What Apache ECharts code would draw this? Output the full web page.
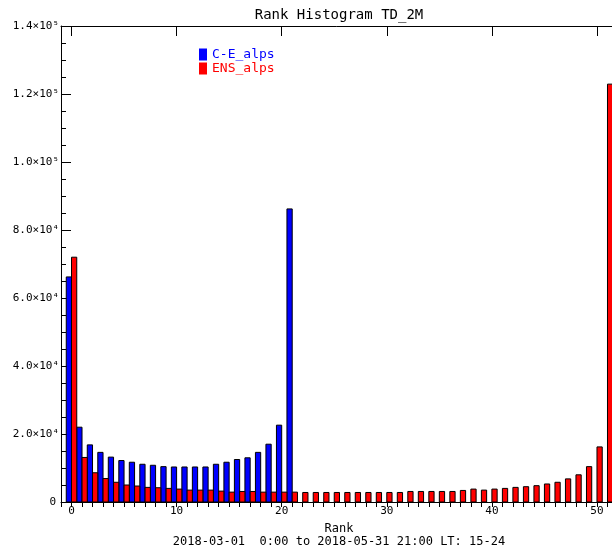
<!DOCTYPE html>
<html>
<head>
<meta charset="utf-8">
<script src="https://cdn.jsdelivr.net/npm/echarts@6/dist/echarts.min.js"></script>
<style>
html,body{margin:0;padding:0;background:#fff;}
#chart{width:612px;height:550px;}
</style>
</head>
<body>
<div id="chart"></div>
<script>
// ---- data ----
const titleText = 'Rank Histogram TD_2M';
const xName = 'Rank';
const subText = '2018-03-01  0:00 to 2018-05-31 21:00 LT: 15-24';
const seriesNames = ['C-E_alps', 'ENS_alps'];
const ceValues = [66200, 22000, 16800, 14600, 13200, 12200, 11700, 11100, 10800, 10400,
                  10300, 10300, 10300, 10300, 11100, 11700, 12500, 13000, 14600, 17000,
                  22600, 86200];
const ensValues = [72000, 13100, 8600, 6900, 5800, 5000, 4700, 4300, 4200, 4000,
                   3800, 3500, 3500, 3500, 3200, 2900, 3100, 3100, 2900, 2900,
                   2900, 2900, 2800, 2800, 2800, 2800, 2800, 2800, 2800, 2800,
                   2800, 2800, 3100, 3100, 3100, 3100, 3100, 3400, 3800, 3500,
                   3800, 4000, 4300, 4500, 4800, 5300, 5800, 6800, 8000, 10400,
                   16200, 122900];
const xTickLabels = [0, 10, 20, 30, 40, 50];

const FONT = '"DejaVu Sans Mono", monospace';
const ceData = ceValues.map((v, i) => [i, v]);
const ensData = ensValues.map((v, i) => [i, v]);

const X_MIN = -1, X_MAX = 52;

function yFmt(v) {
  if (v === 0) return '{z|0}';
  const e = Math.floor(Math.log10(v) + 1e-9);
  const m = v / Math.pow(10, e);
  const sup = {'4': '\u2074', '5': '\u2075'}[String(e)] || String(e);
  return m.toFixed(1) + '\u00d710' + sup;
}

// each rank slot: first series occupies [r-0.5, r], second [r, r+0.5]
function makeRender(lo, hi, color) {
  return function (params, api) {
    const r = api.value(0), v = api.value(1);
    const a = api.coord([r + lo, v]);
    const b = api.coord([r + hi, 0]);
    return {
      type: 'rect',
      shape: {x: a[0], y: a[1], width: b[0] - a[0], height: b[1] - a[1]},
      style: {fill: color, stroke: '#000', lineWidth: 1}
    };
  };
}

const axisLineStyle = {color: '#000', width: 1};
const chart = echarts.init(document.getElementById('chart'), null, {renderer: 'canvas'});
const baseX = {
  type: 'value', min: X_MIN, max: X_MAX, splitNumber: 5,
  splitLine: {show: false},
  axisLine: {show: true, onZero: false, lineStyle: axisLineStyle}
};
const baseY = {
  type: 'value', min: 0, max: 140000, interval: 20000,
  splitLine: {show: false},
  axisLine: {show: true, onZero: false, lineStyle: axisLineStyle},
  axisTick: {show: true, inside: true, length: 10, lineStyle: axisLineStyle},
  minorTick: {show: true, splitNumber: 4, length: 5, lineStyle: axisLineStyle}
};
chart.setOption({
  animation: false,
  backgroundColor: '#fff',
  grid: {left: 61, right: -6, top: 26, bottom: 48, containLabel: false, outerBoundsMode: 'none'},
  legend: {
    orient: 'vertical', left: 199, top: 48, padding: 0,
    itemWidth: 8, itemHeight: 12, itemGap: 1,
    icon: 'rect', selectedMode: false,
    itemStyle: {borderWidth: 0},
    textStyle: {fontFamily: FONT, fontSize: 13},
    data: [
      {name: seriesNames[0], textStyle: {color: '#0000ff'}},
      {name: seriesNames[1], textStyle: {color: '#ff0000'}}
    ]
  },
  xAxis: [
    Object.assign({}, baseX, {
      position: 'bottom',
      axisTick: {show: true, inside: true, length: 10, lineStyle: axisLineStyle},
      axisLabel: {
        show: true, margin: 4, fontFamily: FONT, fontSize: 11, color: '#000',
        showMinLabel: false, showMaxLabel: false,
        formatter: v => (xTickLabels.indexOf(v) >= 0 ? String(v) : '')
      }
    }),
    Object.assign({}, baseX, {
      position: 'top',
      axisTick: {show: true, inside: true, length: 10, lineStyle: axisLineStyle},
      axisLabel: {show: false}
    }),
    Object.assign({}, baseX, {
      position: 'top', interval: 1, splitNumber: undefined,
      axisLine: {show: false},
      axisTick: {show: true, inside: true, length: 5, lineStyle: axisLineStyle},
      axisLabel: {show: false}
    })
  ],
  yAxis: [
    Object.assign({}, baseY, {
      position: 'left',
      axisLabel: {
        show: true, margin: 2, fontFamily: FONT, fontSize: 11, color: '#000',
        formatter: yFmt,
        rich: {z: {fontFamily: FONT, fontSize: 11, color: '#000', padding: [0, 3, 0, 0]}}
      }
    }),
    Object.assign({}, baseY, {
      position: 'right',
      axisLabel: {show: false}
    })
  ],
  series: [
    {
      name: seriesNames[0], type: 'custom', xAxisIndex: 0, yAxisIndex: 0,
      data: ceData, encode: {x: 0, y: 1}, z: 3,
      itemStyle: {color: '#0000ff'},
      renderItem: makeRender(-0.5, 0, '#0000ff')
    },
    {
      name: seriesNames[1], type: 'custom', xAxisIndex: 0, yAxisIndex: 0,
      data: ensData, encode: {x: 0, y: 1}, z: 3,
      itemStyle: {color: '#ff0000'},
      renderItem: makeRender(0, 0.5, '#ff0000')
    }
  ],
  graphic: [
    {type: 'text', x: 339, y: 15, style: {text: titleText, font: '14px ' + FONT, fill: '#000', textAlign: 'center', textVerticalAlign: 'middle'}},
    {type: 'text', x: 339, y: 529, style: {text: xName, font: '12px ' + FONT, fill: '#000', textAlign: 'center', textVerticalAlign: 'middle'}},
    {type: 'text', x: 339, y: 542, style: {text: subText, font: '12px ' + FONT, fill: '#000', textAlign: 'center', textVerticalAlign: 'middle'}}
  ]
});
</script>
</body>
</html>
